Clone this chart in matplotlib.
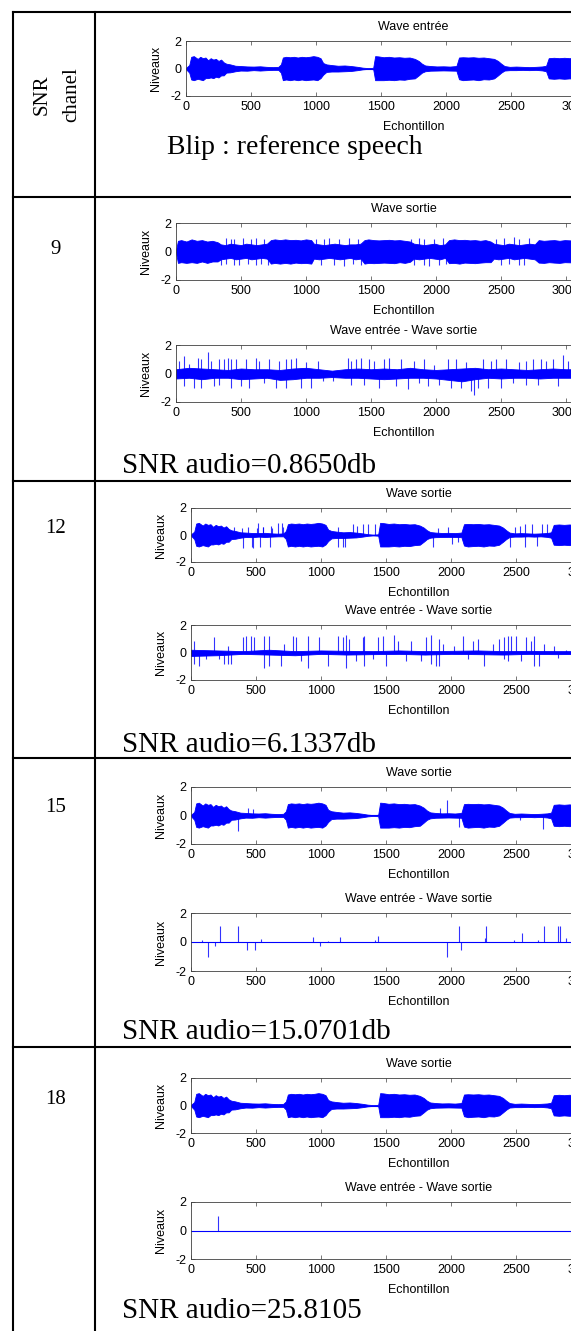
import matplotlib.pyplot as plt
from matplotlib.lines import Line2D

plt.rcParams['axes.unicode_minus'] = False

BLUE = '#0000ff'

# --- table text ---
snr_channel = ['9', '12', '15', '18']
snr_audio = ['SNR audio=0.8650db', 'SNR audio=6.1337db',
             'SNR audio=15.0701db', 'SNR audio=25.8105']

# --- reference speech (Wave entrée): envelope ---
speech_x = [0, 25, 40, 60, 90, 110, 130, 150, 170, 190,
            210, 230, 250, 270, 290, 310, 340, 380, 420, 470,
            520, 570, 620, 670, 710, 730, 745, 770, 800, 830,
            860, 890, 920, 950, 980, 1010, 1035, 1055, 1080, 1120,
            1170, 1220, 1270, 1320, 1360, 1400, 1440, 1455, 1480, 1520,
            1560, 1600, 1640, 1680, 1720, 1760, 1790, 1815, 1840, 1880,
            1930, 1980, 2030, 2080, 2100, 2130, 2170, 2210, 2250, 2290,
            2330, 2370, 2400, 2425, 2450, 2490, 2540, 2590, 2640, 2690,
            2740, 2770, 2790, 2830, 2870, 2910, 2950, 2990, 3100]
speech_up = [0.05, 0.25, 0.85, 0.9, 0.7, 0.85, 0.75, 0.8, 0.6, 0.75,
             0.65, 0.7, 0.55, 0.65, 0.45, 0.35, 0.3, 0.2, 0.18, 0.15,
             0.14, 0.16, 0.12, 0.1, 0.12, 0.3, 0.8, 0.85, 0.82, 0.85,
             0.8, 0.85, 0.82, 0.85, 0.9, 0.85, 0.75, 0.4, 0.3, 0.25,
             0.2, 0.22, 0.18, 0.12, 0.06, 0.03, 0.05, 0.9, 0.88, 0.82,
             0.85, 0.8, 0.82, 0.78, 0.8, 0.7, 0.55, 0.35, 0.22, 0.18,
             0.15, 0.16, 0.14, 0.18, 0.8, 0.82, 0.8, 0.82, 0.78, 0.8,
             0.75, 0.7, 0.55, 0.35, 0.18, 0.12, 0.14, 0.12, 0.1, 0.12,
             0.15, 0.2, 0.75, 0.78, 0.75, 0.78, 0.75, 0.78, 0.75]
speech_lo = [0.05, 0.3, 0.8, 0.85, 0.75, 0.8, 0.85, 0.7, 0.7, 0.65,
             0.7, 0.6, 0.65, 0.5, 0.5, 0.3, 0.28, 0.2, 0.15, 0.16,
             0.12, 0.15, 0.12, 0.1, 0.1, 0.3, 0.85, 0.8, 0.85, 0.8,
             0.85, 0.8, 0.85, 0.82, 0.8, 0.85, 0.7, 0.45, 0.25, 0.22,
             0.22, 0.2, 0.18, 0.12, 0.06, 0.03, 0.05, 0.85, 0.85, 0.85,
             0.82, 0.85, 0.8, 0.82, 0.75, 0.72, 0.5, 0.3, 0.2, 0.16,
             0.15, 0.14, 0.15, 0.16, 0.78, 0.85, 0.82, 0.8, 0.85, 0.78,
             0.8, 0.72, 0.5, 0.3, 0.15, 0.12, 0.12, 0.1, 0.12, 0.1,
             0.14, 0.2, 0.72, 0.75, 0.72, 0.75, 0.72, 0.75, 0.72]

# --- SNR 9: output envelope + spikes ---
n9_x = [0, 15, 40, 80, 120, 160, 200, 240, 280, 320,
        345, 380, 420, 460, 500, 540, 580, 620, 660, 700,
        730, 760, 800, 840, 880, 920, 960, 1000, 1040, 1060,
        1100, 1140, 1180, 1220, 1260, 1300, 1340, 1380, 1420, 1450,
        1480, 1520, 1560, 1600, 1640, 1680, 1720, 1760, 1800, 1830,
        1870, 1910, 1950, 1990, 2030, 2070, 2100, 2140, 2180, 2220,
        2260, 2300, 2340, 2380, 2420, 2445, 2480, 2520, 2560, 2600,
        2640, 2680, 2720, 2760, 2790, 2830, 2870, 2910, 2950, 2990,
        3100]
n9_up = [0.1, 0.75, 0.8, 0.7, 0.85, 0.75, 0.8, 0.7, 0.75, 0.65,
         0.5, 0.45, 0.55, 0.5, 0.45, 0.55, 0.5, 0.45, 0.5, 0.55,
         0.8, 0.85, 0.8, 0.85, 0.8, 0.82, 0.78, 0.85, 0.8, 0.55,
         0.5, 0.45, 0.5, 0.55, 0.5, 0.45, 0.5, 0.5, 0.55, 0.8,
         0.85, 0.8, 0.78, 0.8, 0.82, 0.78, 0.8, 0.75, 0.7, 0.55,
         0.5, 0.45, 0.5, 0.55, 0.45, 0.5, 0.8, 0.85, 0.8, 0.82,
         0.78, 0.8, 0.75, 0.8, 0.7, 0.55, 0.5, 0.45, 0.55, 0.5,
         0.45, 0.5, 0.55, 0.5, 0.8, 0.75, 0.78, 0.8, 0.75, 0.8,
         0.75]
n9_lo = [0.1, 0.8, 0.75, 0.8, 0.75, 0.8, 0.7, 0.8, 0.7, 0.7,
         0.55, 0.5, 0.45, 0.55, 0.5, 0.45, 0.55, 0.5, 0.45, 0.5,
         0.85, 0.8, 0.85, 0.8, 0.85, 0.78, 0.82, 0.8, 0.85, 0.5,
         0.55, 0.5, 0.45, 0.5, 0.55, 0.5, 0.45, 0.55, 0.5, 0.85,
         0.8, 0.82, 0.8, 0.78, 0.8, 0.82, 0.75, 0.8, 0.72, 0.5,
         0.55, 0.5, 0.45, 0.5, 0.55, 0.45, 0.82, 0.8, 0.85, 0.78,
         0.8, 0.82, 0.78, 0.75, 0.75, 0.5, 0.55, 0.5, 0.45, 0.55,
         0.5, 0.45, 0.5, 0.55, 0.78, 0.8, 0.75, 0.78, 0.8, 0.75,
         0.78]
n9_spk_x = [346, 385, 385, 423, 449, 449, 487, 513, 551, 577, 615, 615, 654, 679, 705,
            1077, 1115, 1141, 1179, 1218, 1256, 1295, 1333, 1359, 1397, 1423,
            1808, 1833, 1872, 1910, 1910, 1949, 1987, 2026, 2051, 2077,
            2461, 2500, 2526, 2564, 2602, 2641, 2641, 2679, 2718]
n9_spk_v = [-0.95, 0.95, -0.9, 0.9, 0.85, -0.95, -0.95, 0.95, -0.9, 0.9, 0.95, -0.95, -0.9, 0.9, -0.95,
            0.9, -0.95, 0.9, 0.95, -0.95, 0.9, -1.0, 0.95, -0.9, 0.9, -0.95,
            0.9, -0.95, 0.95, 0.9, -0.95, -1.0, 0.9, -0.95, 0.95, -0.9,
            0.9, -0.95, 0.95, -0.9, 1.0, 0.9, -0.95, -0.95, 0.95]

# SNR 9 difference: core + spikes
d9_x = [0, 100, 200, 300, 400, 500, 600, 700, 800, 900, 1000, 1100, 1200, 1300, 1400, 1500,
        1600, 1700, 1800, 1900, 2000, 2100, 2200, 2300, 2400, 2500, 2600, 2700, 2800, 2900, 3000, 3100]
d9_up = [0.3, 0.4, 0.35, 0.3, 0.25, 0.35, 0.3, 0.3, 0.25, 0.35, 0.4, 0.3, 0.2, 0.3, 0.35, 0.3,
         0.35, 0.3, 0.4, 0.3, 0.25, 0.3, 0.35, 0.4, 0.3, 0.35, 0.3, 0.25, 0.3, 0.35, 0.3, 0.3]
d9_lo = [0.35, 0.3, 0.4, 0.3, 0.3, 0.4, 0.35, 0.3, 0.45, 0.4, 0.3, 0.3, 0.25, 0.3, 0.3, 0.35,
         0.4, 0.35, 0.3, 0.3, 0.35, 0.45, 0.55, 0.4, 0.3, 0.35, 0.3, 0.3, 0.35, 0.3, 0.3, 0.3]
d9_spk_x = [26, 64, 64, 103, 141, 167, 192, 192, 244, 269, 295, 333, 333, 372, 397, 423, 423,
            462, 500, 538, 564, 615, 641, 679, 718, 769, 795, 846, 846, 885, 923, 962, 1000,
            1038, 1090, 1128, 1205, 1320, 1346, 1346, 1385, 1423, 1449, 1487, 1526, 1564,
            1603, 1641, 1692, 1731, 1782, 1833, 1872, 1910, 1936, 1987, 2026, 2090, 2115,
            2154, 2192, 2231, 2269, 2295, 2320, 2359, 2397, 2423, 2461, 2500, 2538, 2590,
            2641, 2692, 2692, 2743, 2782, 2808, 2846, 2897, 2936, 2974, 3013]
d9_spk_v = [0.9, 1.2, -0.9, 0.7, -1.0, 1.1, 1.0, -1.0, 1.5, 0.9, -0.9, 1.0, -0.8, 1.0, 1.1, 1.0, -1.0,
            1.0, -0.9, 1.0, -1.0, 1.1, 0.9, -0.7, 1.0, -1.0, 0.9, 1.0, -1.0, 1.0, 1.1, -1.0, 0.8,
            -1.0, 0.9, -0.5, -0.5, 1.1, 0.9, -0.8, 1.0, 1.1, -0.8, 1.0, 0.9, -1.0,
            1.0, 1.1, -0.9, 1.0, -1.1, 0.9, -0.7, 1.0, -0.9, 0.6, -0.8, 1.0, -1.0,
            1.0, -1.0, 0.8, -1.2, -1.5, -1.0, 1.0, -1.0, 0.9, 1.0, -1.0, 1.0, -0.7,
            0.8, 0.9, -0.8, 1.0, -0.8, 1.0, 0.9, 1.0, -0.9, 1.3, 0.9]

# --- SNR 12 ---
s12_spk_x = [69, 331, 390, 403, 441, 467, 474, 505, 513, 531, 551, 556, 608, 615, 620, 672, 697, 705,
             1133, 1133, 1172, 1185, 1249, 1274, 1326, 1364, 1415,
             1864, 1903, 1979, 2005, 2056,
             2454, 2492, 2531, 2569, 2569, 2620, 2659, 2697, 2736]
s12_spk_v = [-0.5, 0.6, 0.5, -0.95, 0.6, -0.9, -0.95, 0.5, 0.9, -0.9, 0.6, 0.6, -0.9, 0.7, 0.5, 0.9, 0.9, 0.6,
             0.6, -0.9, -0.9, -0.9, 0.8, 0.7, 0.8, 0.8, 0.8,
             -0.9, 0.5, 0.6, -0.7, -0.5,
             -0.9, 0.6, 0.7, 0.8, -0.9, 0.8, -0.8, 0.8, 0.8]
d12_x = [0, 200, 400, 600, 800, 1000, 1200, 1400, 1600, 1800, 2000, 2200, 2400, 2600, 2800, 3100]
d12_up = [0.2, 0.15, 0.1, 0.2, 0.1, 0.15, 0.12, 0.1, 0.15, 0.1, 0.12, 0.15, 0.1, 0.12, 0.1, 0.1]
d12_lo = [0.25, 0.2, 0.1, 0.15, 0.2, 0.1, 0.15, 0.12, 0.1, 0.15, 0.1, 0.12, 0.15, 0.1, 0.12, 0.1]
d12_spk_x = [21, 21, 64, 115, 179, 218, 256, 282, 282, 308, 397, 423, 462, 487, 564, 564, 603, 603,
             692, 718, 782, 808, 846, 897, 897, 987, 1051, 1128, 1167, 1192, 1192, 1218, 1269,
             1320, 1333, 1333, 1397, 1436, 1474, 1500, 1564, 1590, 1654, 1692, 1769, 1808,
             1846, 1846, 1885, 1910, 1910, 1936, 2026, 2090, 2128, 2167, 2205, 2256, 2320,
             2372, 2410, 2410, 2436, 2436, 2461, 2500, 2538, 2577, 2615, 2641, 2641, 2679,
             2718, 2795, 2820, 2885]
d12_spk_v = [0.85, -0.85, -1.0, -0.5, 1.1, -0.5, -0.85, 0.5, -0.85, -0.85, 1.1, 1.2, 1.2, 1.1, 1.2, -1.1, 1.2, -1.0,
             -1.0, 0.6, 1.2, 1.1, -0.6, 1.2, -1.1, 1.1, -1.0, 1.2, 1.1, 1.3, -1.1, 1.0, -0.6,
             1.1, 1.2, -1.0, -0.5, 1.1, 1.2, -1.0, 1.3, 0.85, -0.6, 0.85, -0.6, 1.1,
             1.3, -0.85, -1.0, 1.0, -1.0, 0.6, 0.5, 1.2, -0.5, 0.85, 1.0, -1.0, 0.6,
             1.0, 1.1, -0.5, 1.2, -0.6, 1.2, 1.2, -0.6, 1.1, 0.85, 1.2, -1.0, -1.0,
             0.6, 0.5, -0.4, 0.2]

# --- SNR 15 ---
s15_spk_x = [359, 441, 479, 1915, 1967, 2064, 2531, 2710]
s15_spk_v = [-1.07, 0.5, 0.45, 0.5, 1.07, -0.8, -0.35, -0.95]
d15_spk_x = [82, 133, 185, 223, 359, 433, 492, 536, 936, 992, 1056, 1146, 1415, 1441,
             1967, 2064, 2074, 2262, 2269, 2485, 2549, 2672, 2715, 2826, 2838, 2885]
d15_spk_v = [0.12, -1.02, -0.26, 1.07, 1.07, -0.55, -0.55, 0.24, 0.36, -0.3, 0.1, 0.36, 0.12, 0.4,
             -1.02, 1.07, -0.55, 0.29, 1.07, 0.17, 0.6, 0.17, 1.07, 1.07, 1.07, 0.3]

# --- SNR 18 ---
d18_spk_x = [205]
d18_spk_v = [1.02]

N_SAMPLES = 3100
x_ticks = [0, 500, 1000, 1500, 2000, 2500, 3000, 3500]

W, H = 571, 1331
fig = plt.figure(figsize=(W / 100, H / 100), dpi=100)
fig.patch.set_facecolor('white')

AX_FONT = 'Liberation Sans'
TAB_FONT = 'Liberation Serif'


def add_ax(left, top, bottom):
    return fig.add_axes([left / W, 1 - bottom / H, 455 / W, (bottom - top) / H])


def wave(ax, title, env=None, spikes=None):
    ax.plot([0, N_SAMPLES], [0, 0], color=BLUE, lw=0.8)
    if env is not None:
        x, up, lo = env
        ax.fill_between(x, up, [-v for v in lo], color=BLUE, lw=0.6)
    if spikes is not None:
        ax.vlines(spikes[0], 0, spikes[1], color=BLUE, lw=0.8, alpha=0.8)
    ax.set_xlim(0, 3500)
    ax.set_ylim(-2, 2)
    ax.set_xticks(x_ticks)
    ax.set_yticks([-2, 0, 2])
    ax.tick_params(direction='in', top=True, right=True, length=3, width=0.5,
                   labelsize=9, pad=3.5, color='#404040')
    for lab in ax.get_xticklabels() + ax.get_yticklabels():
        lab.set_family(AX_FONT)
    for sp in ax.spines.values():
        sp.set_linewidth(0.6)
        sp.set_color('#404040')
    ax.set_title(title, fontsize=9, family=AX_FONT, pad=8)
    ax.set_xlabel('Echontillon', fontsize=9, family=AX_FONT, labelpad=6)
    ax.set_ylabel('Niveaux', fontsize=9, family=AX_FONT, labelpad=6)


# row 1: reference
ax = add_ax(186, 41, 96)
wave(ax, 'Wave entrée', env=(speech_x, speech_up, speech_lo))

speech_env = (speech_x, speech_up, speech_lo)
rows = [
    # left, top a, bottom a, top b, bottom b, label y, text baseline
    (176, 223, 280, 345, 402, 250, 473),
    (191, 508, 562, 625, 680, 529, 752),
    (191, 787, 844, 913, 971, 808, 1039),
    (191, 1078, 1133, 1202, 1259, 1099, 1318),
]
signals = [
    ((n9_x, n9_up, n9_lo), (n9_spk_x, n9_spk_v), (d9_x, d9_up, d9_lo), (d9_spk_x, d9_spk_v)),
    (speech_env, (s12_spk_x, s12_spk_v), (d12_x, d12_up, d12_lo), (d12_spk_x, d12_spk_v)),
    (speech_env, (s15_spk_x, s15_spk_v), None, (d15_spk_x, d15_spk_v)),
    (speech_env, None, None, (d18_spk_x, d18_spk_v)),
]

for (left, ta, ba, tb, bb, ly, ty), sig, ch, snr in zip(rows, signals, snr_channel, snr_audio):
    wave(add_ax(left, ta, ba), 'Wave sortie', env=sig[0], spikes=sig[1])
    wave(add_ax(left, tb, bb), 'Wave entrée - Wave sortie', env=sig[2], spikes=sig[3])
    fig.text(56 / W, 1 - ly / H, ch, fontsize=15, family=TAB_FONT, ha='center', va='center')
    fig.text(122 / W, 1 - ty / H, snr, fontsize=21, family=TAB_FONT, ha='left', va='baseline')

fig.text(57 / W, 1 - 95 / H, 'SNR\nchanel', fontsize=15, family=TAB_FONT, rotation=90,
         ha='center', va='center', multialignment='center', linespacing=1.75)
fig.text(167 / W, 1 - 154 / H, 'Blip : reference speech', fontsize=20, family=TAB_FONT,
         ha='left', va='baseline')


# table grid
def hline(y, x0=13, x1=W):
    fig.add_artist(Line2D([x0 / W, x1 / W], [1 - y / H, 1 - y / H], color='black', lw=1.5))


def vline(x, y0=12, y1=H):
    fig.add_artist(Line2D([x / W, x / W], [1 - y0 / H, 1 - y1 / H], color='black', lw=1.5))


for y in [12, 197, 481, 758, 1047]:
    hline(y)
vline(13)
vline(95)

fig.savefig('out.png', dpi=100, facecolor='white')
